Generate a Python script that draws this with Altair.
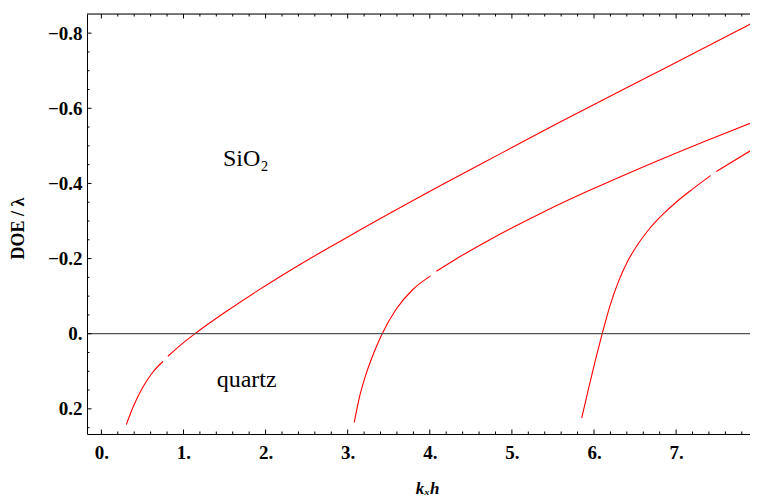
import altair as alt
import pandas as pd
import numpy as np

# ---- data (k_x h , DOE/lambda) ----
c1a_x = [0.304, 0.385, 0.506, 0.628, 0.75]
c1a_y = [0.242, 0.196, 0.142, 0.102, 0.074]
c1b_x = [0.81, 0.993, 1.14, 1.52, 1.886, 2.41, 2.90, 4.12, 4.85, 5.575, 6.67, 7.77, 7.92]
c1b_y = [0.060, 0.025, 0.0, -0.059, -0.112, -0.183, -0.245, -0.393, -0.478, -0.562, -0.685, -0.809, -0.826]

c2a_x = [3.08, 3.14, 3.22, 3.32, 3.42, 3.59, 3.79, 4.01]
c2a_y = [0.236, 0.172, 0.110, 0.050, 0.0, -0.065, -0.117, -0.154]
c2b_x = [4.08, 4.32, 4.72, 5.33, 5.70, 5.94, 6.47, 7.36, 7.98]
c2b_y = [-0.166, -0.199, -0.249, -0.318, -0.357, -0.381, -0.432, -0.513, -0.567]

c3a_x = [5.85, 5.94, 6.02, 6.10, 6.20, 6.30, 6.41, 6.51, 6.67, 6.85, 7.00, 7.20, 7.42]
c3a_y = [0.225, 0.140, 0.068, 0.0, -0.078, -0.140, -0.193, -0.230, -0.278, -0.320, -0.350, -0.385, -0.421]
c3b_x = [7.49, 7.92]
c3b_y = [-0.432, -0.489]

x_major = [0, 1, 2, 3, 4, 5, 6, 7]
x_minor = [round(v, 1) for v in np.arange(-0.2, 7.95, 0.2) if abs(v - round(v)) > 1e-6 and v > -0.17]
y_major = [-0.8, -0.6, -0.4, -0.2, 0.0, 0.2]
y_minor = [round(v, 2) for v in np.arange(-0.85, 0.27, 0.05) if abs(v * 5 - round(v * 5)) > 1e-6 and v > -0.849]

labels = ["SiO\u2082", "quartz"]
label_x = [1.76, 1.77]
label_y = [-0.446, 0.142]

# ---- build tables ----
segs = [("c1a", c1a_x, c1a_y), ("c1b", c1b_x, c1b_y),
        ("c2a", c2a_x, c2a_y), ("c2b", c2b_x, c2b_y),
        ("c3a", c3a_x, c3a_y), ("c3b", c3b_x, c3b_y)]
rows = []
for name, xs, ys in segs:
    for i, (a, b) in enumerate(zip(xs, ys)):
        rows.append({"x": a, "y": b, "seg": name, "o": i})
df = pd.DataFrame(rows)

W, H = 663, 420
FONT = "Liberation Serif, DejaVu Serif, serif"

xscale = alt.Scale(domain=[-0.175, 7.90], nice=False, zero=False)
yscale = alt.Scale(domain=[-0.851, 0.267], nice=False, zero=False, reverse=True)

xaxis = alt.Axis(values=x_major, labelExpr="format(datum.value, 'd') + '.'",
                 ticks=False, grid=False, domainColor="black", domainWidth=1,
                 labelFont=FONT, labelFontSize=19, labelFontWeight="bold", labelColor="black",
                 labelPadding=9, labelFlush=False,
                 title="k\u2093h", titleFont=FONT, titleFontSize=17, titleFontWeight="bold",
                 titleFontStyle="italic", titleColor="black", titleX=340, titleY=59,
                 titleAlign="center", titleBaseline="alphabetic")
yaxis = alt.Axis(values=y_major,
                 labelExpr="datum.value == 0 ? '0.' : replace(format(datum.value, '.1f'), '-', '\u2212')",
                 ticks=False, grid=False, domainColor="black", domainWidth=1,
                 labelFont=FONT, labelFontSize=19, labelFontWeight="bold", labelColor="black",
                 labelPadding=5, labelFlush=False,
                 title="DOE / \u03bb", titleFont=FONT, titleFontSize=18, titleFontWeight="bold",
                 titleColor="black", titleAngle=270, titleX=-69, titleY=214,
                 titleAlign="center", titleBaseline="middle")

lines = alt.Chart(df).mark_line(color="#ff0000", strokeWidth=1.1, clip=True,
                                interpolate="monotone").encode(
    x=alt.X("x:Q", scale=xscale, axis=xaxis),
    y=alt.Y("y:Q", scale=yscale, axis=yaxis),
    detail="seg:N",
    order="o:Q",
)

zero = alt.Chart(pd.DataFrame({"y": [0.0]})).mark_rule(color="#555555", strokeWidth=1.3).encode(
    y="y:Q")

top_border = alt.Chart(pd.DataFrame({"a": [0]})).mark_rule(color="black", strokeWidth=1).encode(
    x=alt.value(0), x2=alt.value(W), y=alt.value(0))

dxM = pd.DataFrame({"x": x_major})
dxm = pd.DataFrame({"x": x_minor})
dyM = pd.DataFrame({"y": y_major})
dym = pd.DataFrame({"y": y_minor})

tick_layers = [
    alt.Chart(dxM).mark_rule(color="black", strokeWidth=1).encode(x="x:Q", y=alt.value(H), y2=alt.value(H - 4.5)),
    alt.Chart(dxm).mark_rule(color="black", strokeWidth=1).encode(x="x:Q", y=alt.value(H), y2=alt.value(H - 2.5)),
    alt.Chart(dxM).mark_rule(color="black", strokeWidth=1).encode(x="x:Q", y=alt.value(0), y2=alt.value(4.5)),
    alt.Chart(dxm).mark_rule(color="black", strokeWidth=1).encode(x="x:Q", y=alt.value(0), y2=alt.value(2.5)),
    alt.Chart(dyM).mark_rule(color="black", strokeWidth=1).encode(y="y:Q", x=alt.value(0), x2=alt.value(4.5)),
    alt.Chart(dym).mark_rule(color="black", strokeWidth=1).encode(y="y:Q", x=alt.value(0), x2=alt.value(2.5)),
]

text = alt.Chart(pd.DataFrame({"x": label_x, "y": label_y, "t": labels})).mark_text(
    font=FONT, fontSize=24, color="black", align="center", baseline="alphabetic").encode(
    x="x:Q", y="y:Q", text="t:N")

chart = alt.layer(lines, zero, top_border, *tick_layers, text).properties(
    width=W, height=H,
    padding={"left": 79, "top": 6, "right": 0, "bottom": 66},
    autosize=alt.AutoSizeParams(type="none"),
).configure_view(stroke=None).configure(background="white")

chart.save("out.html", embed_options={"renderer": "svg", "actions": False})
